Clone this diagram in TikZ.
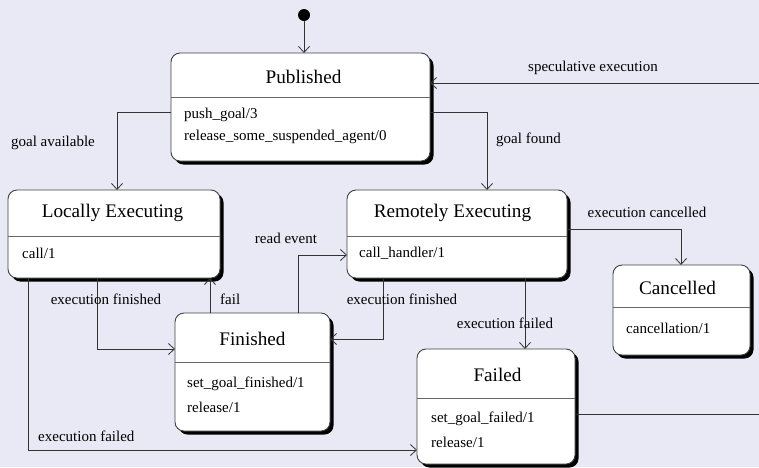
\documentclass[tikz,border=0pt]{standalone}
\usepackage{fontspec}
\setmainfont{Liberation Serif}
\usetikzlibrary{arrows.meta,shadows}
\definecolor{bg}{RGB}{233,233,245}
\begin{document}
\begin{tikzpicture}[x=1pt,y=-1pt,
 state/.style={draw=black!75, fill=white, rounded corners=9pt, line width=0.9pt, inner sep=0pt, outer sep=0pt, anchor=north west,
   drop shadow={shadow xshift=3.5pt, shadow yshift=-3.5pt, fill=black, opacity=1}},
 ttl/.style={font=\fontsize{19.2}{21}\selectfont, inner sep=0pt},
 itm/.style={font=\fontsize{15}{17}\selectfont, inner sep=0pt, anchor=west},
 lbl/.style={font=\fontsize{15}{17}\selectfont, inner sep=0pt},
 conn/.style={draw=black!80, line width=0.8pt},
 arr/.style={conn, -{Straight Barb[length=6pt,width=11pt]}},
 div/.style={draw=black!60, line width=0.9pt}]

\fill[bg] (0,0) rectangle (759,467);
\useasboundingbox (0,0) rectangle (759,467);

% states
\node[state, minimum width=259pt, minimum height=108pt] (pub) at (171,53) {};
\draw[div] (171,97) -- (430,97);
\node[ttl] (pubT) at (303.5,77) {Published};
\node[itm] (pubA) at (184,115) {push\_goal/3};
\node[itm] (pubB) at (184,137) {release\_some\_suspended\_agent/0};

\node[state, minimum width=212pt, minimum height=88pt] (loc) at (8,190) {};
\draw[div] (8,236) -- (220,236);
\node[ttl] (locT) at (112.5,213) {Locally Executing};
\node[itm] (locA) at (22,253) {call/1};

\node[state, minimum width=220pt, minimum height=88pt] (rem) at (347,190) {};
\draw[div] (347,236) -- (567,236);
\node[ttl] (remT) at (452.5,213) {Remotely Executing};
\node[itm] (remA) at (359,253) {call\_handler/1};

\node[state, minimum width=137pt, minimum height=90pt] (can) at (613,265) {};
\draw[div] (613,307) -- (750,307);
\node[ttl] (canT) at (677.5,288) {Cancelled};
\node[itm] (canA) at (626,328) {cancellation/1};

\node[state, minimum width=155pt, minimum height=118pt] (fin) at (175,313) {};
\draw[div] (175,362) -- (330,362);
\node[ttl] (finT) at (252.5,339) {Finished};
\node[itm] (finA) at (187,384) {set\_goal\_finished/1};
\node[itm] (finB) at (187,407) {release/1};

\node[state, minimum width=158pt, minimum height=115pt] (fail) at (417,349) {};
\draw[div] (417,398) -- (575,398);
\node[ttl] (failT) at (497.5,375) {Failed};
\node[itm] (failA) at (431,419) {set\_goal\_failed/1};
\node[itm] (failB) at (431,442) {release/1};

% initial
\node[circle, fill=black, minimum size=12pt, inner sep=0pt] (init) at (304,15) {};
\draw[arr] (init) -- (init |- pub.north);

% connectors
\coordinate (ga) at (117,112);
\draw[arr] (pub.west |- ga) -| (ga |- loc.north);
\node[lbl] (gaL) at (53,143) {goal available};

\coordinate (gf) at (487,112);
\draw[arr] (pub.east |- gf) -| (gf |- rem.north);
\node[lbl, anchor=west] (gfL) at (496,140) {goal found};

\coordinate (spec) at (759,83);
\draw[arr] (spec) -- (spec -| pub.east);
\node[lbl] (specL) at (593,68) {speculative execution};

\coordinate (fo) at (759,414);
\draw[conn] (fail.east |- fo) -- (fo);

\coordinate (ef1) at (97,349);
\draw[arr] (ef1 |- loc.south) |- (fin.west |- ef1);
\node[lbl] (ef1L) at (106,299) {execution finished};

\coordinate (fl) at (210,0);
\draw[arr] (fl |- fin.north) -- (fl |- loc.south);
\node[lbl, anchor=west] (flL) at (220,299) {fail};

\coordinate (re) at (298,255);
\draw[arr] (re |- fin.north) |- (rem.west |- re);
\node[lbl] (reL) at (286,238) {read event};

\coordinate (ef2) at (383,339);
\draw[arr] (ef2 |- rem.south) |- (fin.east |- ef2);
\node[lbl] (ef2L) at (402,299) {execution finished};

\coordinate (ef3) at (525,0);
\draw[arr] (ef3 |- rem.south) -- (ef3 |- fail.north);
\node[lbl] (ef3L) at (505,323) {execution failed};

\coordinate (ec) at (681,229);
\draw[arr] (rem.east |- ec) -| (ec |- can.north);
\node[lbl] (ecL) at (647,212) {execution cancelled};

\coordinate (efl) at (28,450);
\draw[arr] (efl |- loc.south) |- (fail.west |- efl);
\node[lbl, anchor=west] (eflL) at (38,436) {execution failed};
\end{tikzpicture}
\end{document}
